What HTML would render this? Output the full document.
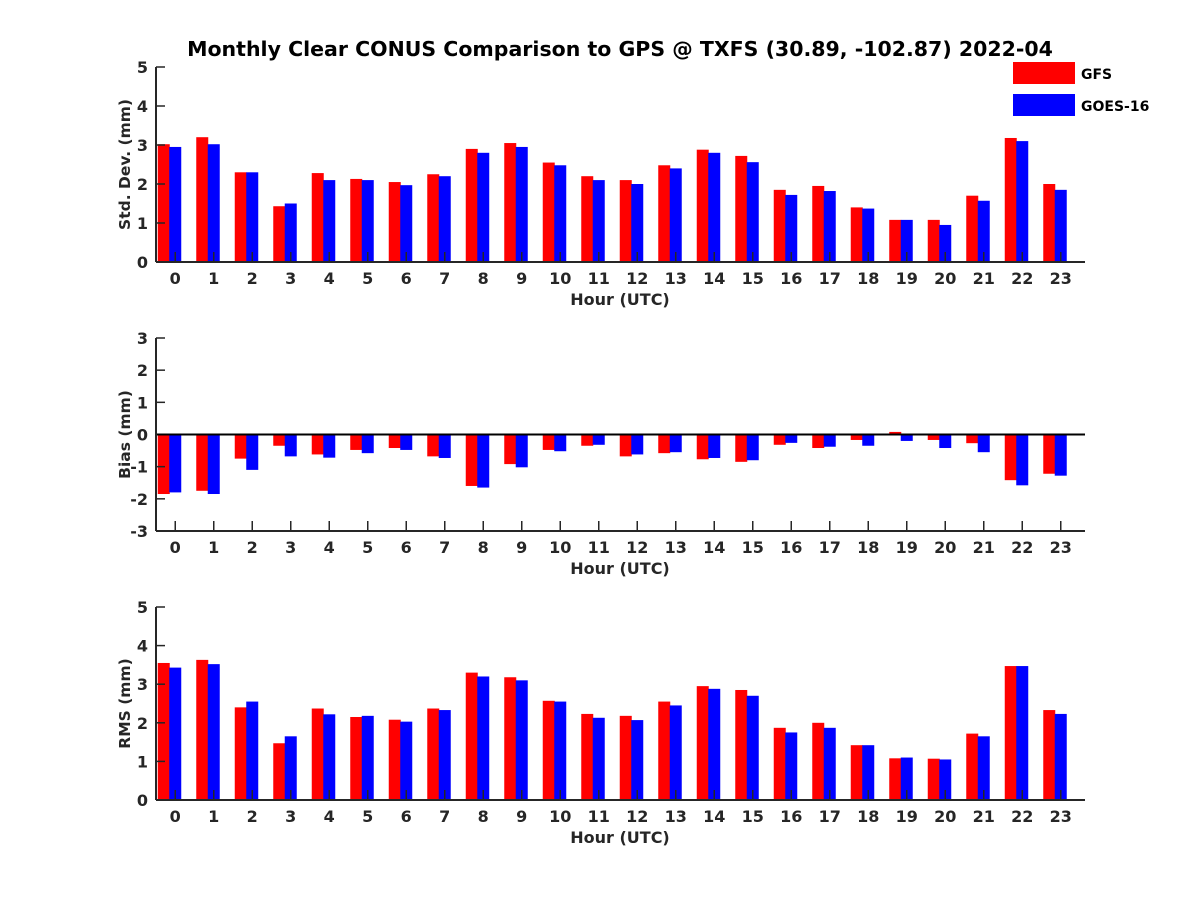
<!DOCTYPE html>
<html><head><meta charset="utf-8"><style>
body{margin:0;background:#fff}
svg text{font-family:"DejaVu Sans","Liberation Sans",sans-serif;font-weight:bold;fill:#262626}
</style></head><body>
<svg id="c" width="1200" height="900" xmlns="http://www.w3.org/2000/svg">
<text x="620" y="56" text-anchor="middle" font-size="20.5" style="fill:#000">Monthly Clear CONUS Comparison to GPS @ TXFS (30.89, -102.87) 2022-04</text>
<rect x="1013" y="62" width="62" height="22" fill="#ff0000"/>
<text x="1081" y="79" font-size="14" style="fill:#000">GFS</text>
<rect x="1013" y="94" width="62" height="22" fill="#0000ff"/>
<text x="1081" y="111" font-size="14" style="fill:#000">GOES-16</text>
</svg>
<script>
const hours=[0,1,2,3,4,5,6,7,8,9,10,11,12,13,14,15,16,17,18,19,20,21,22,23];
const stdGFS=[3.02,3.2,2.3,1.43,2.28,2.13,2.05,2.25,2.9,3.05,2.55,2.2,2.1,2.48,2.88,2.72,1.85,1.95,1.4,1.08,1.08,1.7,3.18,2.0];
const stdGOES=[2.95,3.02,2.3,1.5,2.1,2.1,1.97,2.2,2.8,2.95,2.48,2.1,2.0,2.4,2.8,2.56,1.72,1.82,1.37,1.08,0.95,1.57,3.1,1.85];
const biasGFS=[-1.85,-1.75,-0.75,-0.35,-0.62,-0.48,-0.42,-0.68,-1.6,-0.92,-0.48,-0.35,-0.68,-0.58,-0.77,-0.85,-0.32,-0.42,-0.17,0.08,-0.17,-0.27,-1.42,-1.22];
const biasGOES=[-1.8,-1.85,-1.1,-0.68,-0.72,-0.58,-0.48,-0.73,-1.65,-1.02,-0.52,-0.32,-0.62,-0.55,-0.73,-0.8,-0.26,-0.38,-0.35,-0.2,-0.42,-0.55,-1.58,-1.28];
const rmsGFS=[3.55,3.63,2.4,1.47,2.37,2.15,2.08,2.37,3.3,3.18,2.57,2.23,2.18,2.55,2.95,2.85,1.87,2.0,1.42,1.08,1.07,1.72,3.47,2.33];
const rmsGOES=[3.43,3.52,2.55,1.65,2.22,2.18,2.03,2.33,3.2,3.1,2.55,2.13,2.07,2.45,2.88,2.7,1.75,1.87,1.42,1.1,1.05,1.65,3.47,2.23];
const stdTicks=[0,1,2,3,4,5];
const biasTicks=[-3,-2,-1,0,1,2,3];
const rmsTicks=[0,1,2,3,4,5];
const svg=document.getElementById('c');
const NS='http://www.w3.org/2000/svg';
function mk(tag,attrs,parent){const e=document.createElementNS(NS,tag);for(const k in attrs)e.setAttribute(k,attrs[k]);(parent||svg).appendChild(e);return e;}
const X0=156,X1=1085,STEP=38.5;
function xs(h){return X0+(h+0.5)*STEP;}
function panel(name,top,bottom,ymin,ymax,ticks,a,b,ylabel,zeroLine){
  const g=mk('g',{});
  
  
  const ys=v=>bottom-(v-ymin)/(ymax-ymin)*(bottom-top);
  const y0=ys(Math.max(ymin,0));
  hours.forEach((h,i)=>{
    const cx=xs(h);
    [[a[i],'#ff0000',-17.5,'gfs'],[b[i],'#0000ff',-6,'goes16']].forEach(([v,col,off,s])=>{
      const yv=ys(v);
      const r=mk('rect',{x:cx+off,y:Math.min(yv,y0),width:12,height:Math.abs(yv-y0),fill:col},g);
      
      
    });
    mk('line',{x1:cx,x2:cx,y1:bottom,y2:bottom-10,stroke:'#262626','stroke-width':1.5},g);
    const tl=mk('text',{x:cx,y:bottom+22,'text-anchor':'middle','font-size':16},g);
    tl.textContent=h;
    
    
  });
  ticks.forEach(v=>{
    const y=ys(v);
    mk('line',{x1:X0,x2:X0+9,y1:y,y2:y,stroke:'#262626','stroke-width':1.5},g);
    const tl=mk('text',{x:X0-8,y:y+6,'text-anchor':'end','font-size':16},g);
    tl.textContent=v;
    
    
  });
  if(zeroLine) mk('line',{x1:X0,x2:X1,y1:ys(0),y2:ys(0),stroke:'#000','stroke-width':2},g);
  mk('line',{x1:X0,x2:X0,y1:top,y2:bottom,stroke:'#262626','stroke-width':2},g);
  mk('line',{x1:X0,x2:X1,y1:bottom,y2:bottom,stroke:'#262626','stroke-width':2},g);
  const xl=mk('text',{x:620,y:bottom+43,'text-anchor':'middle','font-size':16},g);
  xl.textContent='Hour (UTC)';
  
  
  const cy=(top+bottom)/2;
  const yl=mk('text',{x:130,y:cy,'text-anchor':'middle','font-size':15.5,transform:'rotate(-90 130 '+cy+')'},g);
  yl.textContent=ylabel;
  
  
}
panel('std-dev',67,262,0,5,stdTicks,stdGFS,stdGOES,'Std. Dev. (mm)',false);
panel('bias',338,531,-3,3,biasTicks,biasGFS,biasGOES,'Bias (mm)',true);
panel('rms',607,800,0,5,rmsTicks,rmsGFS,rmsGOES,'RMS (mm)',false);
</script>
</body></html>
